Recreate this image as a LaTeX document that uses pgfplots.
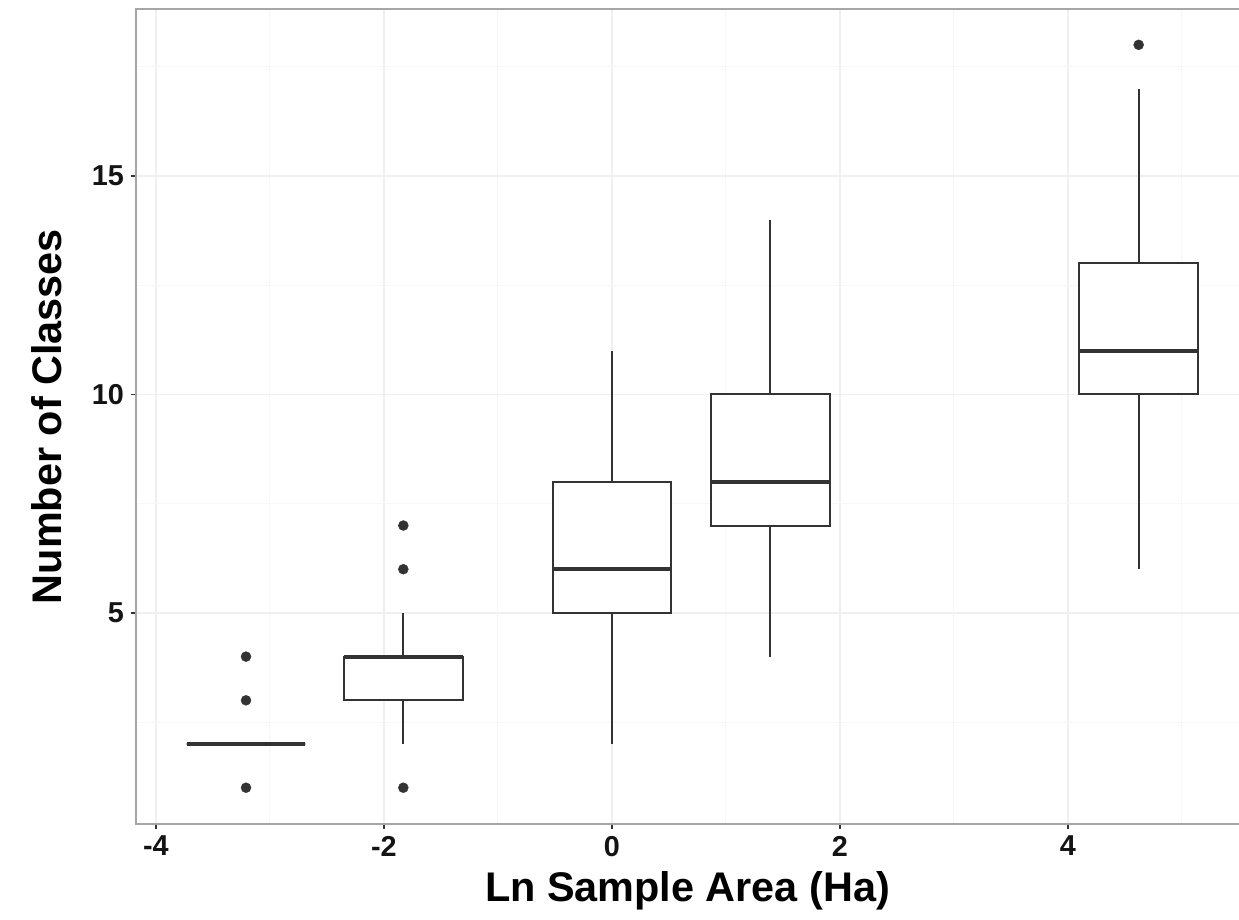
\documentclass[border=0pt]{standalone}
\usepackage{fontspec}
\setmainfont{Liberation Sans}
\usepackage{pgfplots}
\pgfplotsset{compat=1.18}
\usepgfplotslibrary{statistics}
\definecolor{boxc}{HTML}{333333}
\definecolor{gridmaj}{HTML}{F0F0F0}
\definecolor{gridmin}{HTML}{F7F7F7}
\definecolor{framec}{HTML}{A6A6A6}
\begin{document}
\begin{tikzpicture}
\begin{axis}[
  scale only axis, width=551.5pt, height=407.5pt,
  xmin=-4.175, xmax=5.5, ymin=0.17, ymax=18.82,
  xtick={-4,-2,0,2,4}, xticklabels={-4,-2,0,2,4},
  ytick={5,10,15}, yticklabels={5,10,15},
  minor xtick={-3,-1,1,3,5}, minor ytick={2.5,7.5,12.5,17.5},
  grid=both,
  major grid style={gridmaj, line width=0.8pt},
  minor grid style={gridmin, line width=0.5pt},
  axis line style={draw=none},
  tick pos=left,
  tick align=outside, major tick length=2.5pt, minor tick length=0pt,
  tick style={boxc, line width=0.6pt},
  ticklabel style={font=\fontsize{14.4}{17}\selectfont\bfseries, text=black!92},
  xlabel={Ln Sample Area (Ha)}, ylabel={Number of Classes},
  label style={font=\fontsize{20.7}{24}\selectfont\bfseries},
  xlabel style={at={(axis description cs:0.5,-0.0957)}, anchor=base},
  ylabel style={at={(axis description cs:-0.0671,0.5)}, anchor=base},
  boxplot/draw direction=y,
  boxplot/box extend=1.04,
  boxplot/whisker extend=0,
  boxplot/every box/.style={fill=white, draw=boxc, line width=1pt},
  boxplot/every whisker/.style={draw=boxc, line width=1pt},
  boxplot/every median/.style={draw=boxc, line width=2pt},
  cycle list={{boxc, line width=1pt, solid, mark=*}},
  every axis plot/.append style={mark size=2.5pt, mark options={solid, fill=boxc, draw=boxc, line width=0.2pt}},
]
\addplot+[boxplot prepared={draw position=-3.21, lower whisker=2, lower quartile=2, median=2, upper quartile=2, upper whisker=2}] coordinates {(0,1) (0,3) (0,4)};
\addplot+[boxplot prepared={draw position=-1.83, lower whisker=2, lower quartile=3, median=4, upper quartile=4, upper whisker=5}] coordinates {(0,1) (0,6) (0,7)};
\addplot+[boxplot prepared={draw position=0.0, lower whisker=2, lower quartile=5, median=6, upper quartile=8, upper whisker=11}] coordinates {};
\addplot+[boxplot prepared={draw position=1.39, lower whisker=4, lower quartile=7, median=8, upper quartile=10, upper whisker=14}] coordinates {};
\addplot+[boxplot prepared={draw position=4.62, lower whisker=6, lower quartile=10, median=11, upper quartile=13, upper whisker=17}] coordinates {(0,18)};
\end{axis}
\draw[framec, line width=1pt] (551.5pt,407.5pt) -- (0,407.5pt) -- (0,0) -- (551.5pt,0);
\pgfresetboundingbox
\path (-68pt,-48pt) rectangle (551.5pt,412pt);
\end{tikzpicture}
\end{document}
